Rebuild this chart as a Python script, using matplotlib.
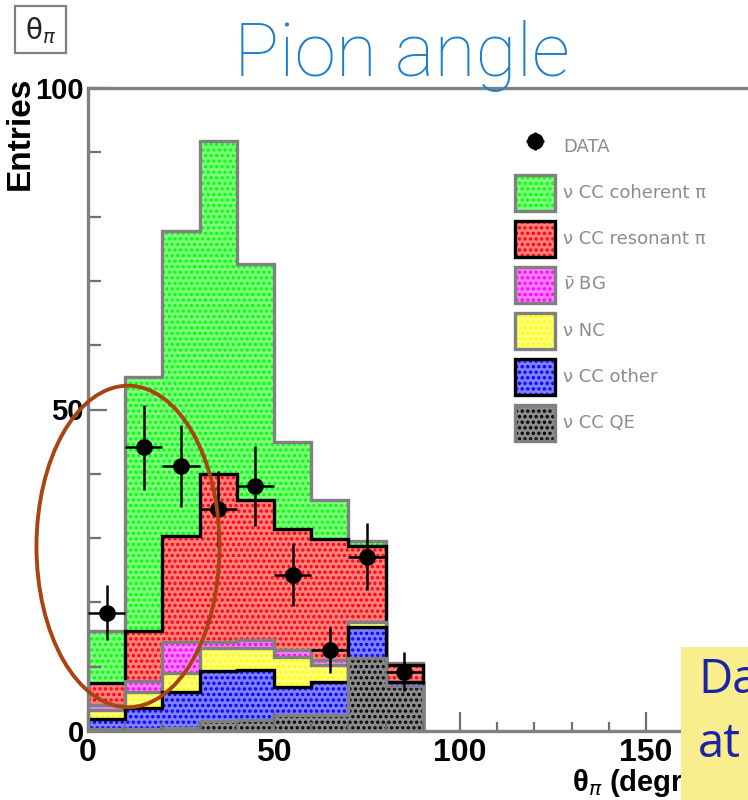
import matplotlib
matplotlib.use("Agg")
import matplotlib.pyplot as plt
import numpy as np
from matplotlib.legend_handler import HandlerTuple
from matplotlib.patches import Ellipse, Patch, Rectangle

# pion angle bins (degrees)
bin_edges = [0, 10, 20, 30, 40, 50, 60, 70, 80, 90]

# MC components, bottom of the stack first
cc_qe = [0.3, 0.3, 0.5, 1.5, 1.7, 2.5, 2.5, 11.4, 7.0]
cc_other = [1.6, 3.3, 5.6, 7.8, 7.8, 4.4, 5.1, 4.7, 0.6]
nc = [1.4, 2.5, 2.9, 3.6, 3.4, 4.6, 2.7, 0.9, 0.0]
nubar_bg = [0.8, 1.7, 4.8, 1.0, 1.3, 1.1, 0.7, 0.0, 0.0]
cc_res = [3.4, 7.8, 16.6, 26.0, 21.8, 18.8, 18.8, 11.8, 2.7]
cc_coh = [8.0, 39.5, 47.4, 51.8, 36.7, 13.5, 6.2, 0.7, 0.3]

data_x = [5, 15, 25, 35, 45, 55, 65, 75, 85]
data_y = [18.4, 44.1, 41.2, 34.5, 38.1, 24.3, 12.6, 27.1, 9.2]

labels = ["ν CC QE", "ν CC other", "ν NC", r"$\bar{\nu}$ BG",
          "ν CC resonant π", "ν CC coherent π"]
# face, pattern, outline
styles = [("#8c8c8c", "black", "#808080"),
          ("#8080ff", "#0000ff", "black"),
          ("#ffff80", "#ffff00", "#808080"),
          ("#ff80ff", "#ff00ff", "#808080"),
          ("#ff8080", "#ff0000", "black"),
          ("#80ff80", "#00ff00", "#808080")]

plt.rcParams['font.family'] = ['Liberation Sans', 'DejaVu Sans']
plt.rcParams['hatch.linewidth'] = 1.6

W, H = 748, 800
fig = plt.figure(figsize=(W / 100, H / 100), dpi=100)
ax = fig.add_axes([88 / W, 1 - 731 / H, 180 * 3.72 / W, (731 - 88) / H])
ax.set_xlim(0, 180)
ax.set_ylim(0, 100)

tops = np.cumsum([cc_qe, cc_other, nc, nubar_bg, cc_res, cc_coh], axis=0)
handles = []
for i in range(len(labels) - 1, -1, -1):
    face, pat, line = styles[i]
    ax.stairs(tops[i], bin_edges, fill=True, facecolor=face, edgecolor='none', lw=0)
    ax.stairs(tops[i], bin_edges, fill=True, facecolor='none', edgecolor=pat,
              hatch='...', lw=0)
    ax.stairs(tops[i], bin_edges, color=line, lw=2.4)
    handles.append((Patch(facecolor=face, edgecolor=pat, hatch='...', lw=0),
                    Patch(facecolor='none', edgecolor=line, lw=2.4)))

eb = ax.errorbar(data_x, data_y, xerr=5, yerr=np.sqrt(data_y), fmt='o',
                 color='black', ms=11, elinewidth=1.8, capsize=0, zorder=5)

ax.add_patch(Ellipse((10.75, 28.7), 49.2, 50.0, fill=False, ec='#a84412',
                     lw=2.8, clip_on=False, zorder=6))

for s in ['top', 'left', 'bottom']:
    ax.spines[s].set_color('#808080')
    ax.spines[s].set_linewidth(2.4)
ax.spines['right'].set_visible(False)

ax.set_xticks([0, 50, 100, 150])
ax.set_xticks(range(0, 181, 10), minor=True)
ax.set_yticks([0, 50, 100])
ax.set_yticks(range(0, 101, 10), minor=True)
ax.tick_params(which='both', direction='in', color='#707070', width=1.6,
               top=False, right=False)
ax.tick_params(which='major', length=13.5)
ax.tick_params(axis='x', which='major', labelsize=23, pad=5)
ax.tick_params(axis='y', which='major', labelsize=21, pad=3)
ax.tick_params(axis='y', which='minor', length=9)
ax.tick_params(axis='x', which='minor', length=6.5)
for t in ax.get_xticklabels() + ax.get_yticklabels():
    t.set_fontweight('bold')

leg_handles = [eb] + handles
leg_labels = ["DATA"] + labels[::-1]
ax.legend(leg_handles, leg_labels, loc='upper left',
          bbox_to_anchor=(515 / W, 1 - 129 / H), bbox_transform=fig.transFigure,
          frameon=False, borderpad=0, borderaxespad=0,
          labelcolor='#8c8c8c', handlelength=2.21, handleheight=2.69,
          labelspacing=0.55, handletextpad=0.44,
          prop={'family': 'DejaVu Sans', 'size': 13},
          handler_map={tuple: HandlerTuple(ndivide=1)})

fig.text(402 / W, 1 - 75 / H, "Pion angle", ha='center', va='baseline',
         fontsize=54, color='#1f7fcb', family='Roboto', weight='light')

fig.add_artist(Rectangle((15 / W, 1 - 53 / H), 51 / W, 47 / H,
                         transform=fig.transFigure, fill=False,
                         ec='#808080', lw=1.6))
fig.text(41 / W, 1 - 31 / H, r"θ$_{\pi}$", ha='center', va='center',
         fontsize=20, color='#222222', family='DejaVu Sans')

fig.text(20 / W, 1 - 77 / H, "Entries", rotation=90, ha='center', va='top',
         fontsize=24, weight='bold')
fig.text(572 / W, 1 - 791 / H, r"θ$_{\pi}$ (degree)", ha='left',
         va='baseline', fontsize=21, weight='bold')

fig.add_artist(Rectangle((681 / W, 0), (W - 681) / W, 153 / H,
                         transform=fig.transFigure, fc='#f8ee8e', ec='none',
                         zorder=10))
fig.text(698 / W, 1 - 693 / H, "Da", ha='left', va='baseline', fontsize=34,
         color='#1b23a8', family='Open Sans', zorder=11)
fig.text(698 / W, 1 - 757 / H, "at", ha='left', va='baseline', fontsize=34,
         color='#1b23a8', family='Open Sans', zorder=11)

fig.savefig("out.png", dpi=100)
